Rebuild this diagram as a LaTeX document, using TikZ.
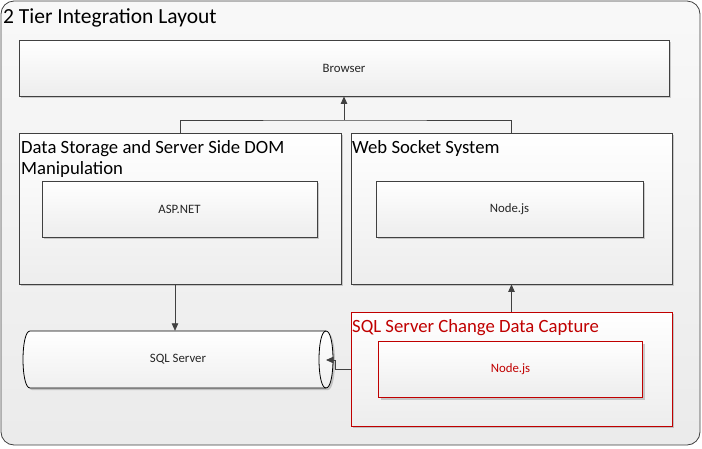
\documentclass[tikz,border=0pt]{standalone}
\usepackage{fontspec}
\setmainfont{Carlito}
\usetikzlibrary{arrows.meta,shadows,calc}
\definecolor{lineg}{HTML}{404040}
\definecolor{cdcred}{HTML}{C00000}
\definecolor{bgg}{HTML}{F2F2F2}
\tikzset{
  boxsh/.style={draw=lineg, line width=0.8pt, inner sep=0pt, shading=axis, top color=white, bottom color=black!7,
    drop shadow={opacity=0.18, shadow xshift=2pt, shadow yshift=-2pt, fill=black}},
  redbox/.style={boxsh, draw=cdcred},
  ttl/.style={anchor=base west, inner sep=0pt, font=\fontsize{18.7}{21}\selectfont, align=left, text=black},
  lbl/.style={font=\fontsize{12.8}{15}\selectfont, text=black!85},
  arr/.style={draw=lineg, line width=0.8pt, -{Triangle[width=6.5pt,length=7.5pt]}},
  conn/.style={draw=lineg, line width=0.8pt},
}
\begin{document}
\begin{tikzpicture}[x=1pt,y=-1pt]
\useasboundingbox (0,0) rectangle (702,448);
% outer frame
\node[draw=lineg, line width=0.8pt, rounded corners=13pt, shading=axis, top color=white!50!bgg, bottom color=bgg!97!black,
  minimum width=699pt, minimum height=444pt, inner sep=0pt] (frame) at (350.5,223) {};
\node[anchor=base west, inner sep=0pt, font=\fontsize{21.5}{24}\selectfont] (title) at (3,23) {2 Tier Integration Layout};
% browser
\node[boxsh, minimum width=650pt, minimum height=56pt, lbl] (browser) at (344,68) {Browser};
% data storage
\node[boxsh, minimum width=322pt, minimum height=151pt] (ds) at (180,208.5) {};
\node[ttl] (dst) at (21,153.5) {Data Storage and Server Side DOM};
\node[ttl] (dst2) at (21,174) {Manipulation};
\node[boxsh, minimum width=275pt, minimum height=56pt, lbl] (asp) at (179.5,209) {ASP.NET};
% web socket
\node[boxsh, minimum width=321pt, minimum height=151pt] (ws) at (511.5,208.5) {};
\node[ttl] (wst) at (352,153.5) {Web Socket System};
\node[boxsh, minimum width=267pt, minimum height=56pt, lbl] (nodeA) at (509.5,209) {Node.js};
% CDC
\node[redbox, minimum width=321pt, minimum height=114pt] (cdc) at (511.5,369) {};
\node[ttl, text=cdcred] (cdct) at (352,332) {SQL Server Change Data Capture};
\node[redbox, minimum width=264pt, minimum height=56pt, lbl, text=cdcred] (nodeB) at (510.5,369.5) {Node.js};
% SQL Server cylinder (drawn directly)
\fill[black, opacity=0.18, shift={(2,2)}]
  (30,331) -- (326,331) .. controls (335.33,331) and (335.33,388) .. (326,388) -- (30,388)
  .. controls (20.67,388) and (20.67,331) .. (30,331) -- cycle;
\draw[black, line width=0.8pt, shading=axis, top color=white, bottom color=black!6]
  (30,331) -- (326,331) .. controls (335.33,331) and (335.33,388) .. (326,388) -- (30,388)
  .. controls (20.67,388) and (20.67,331) .. (30,331) -- cycle;
\draw[black, line width=0.8pt] (326,331) .. controls (316.67,331) and (316.67,388) .. (326,388);
\node[minimum width=310pt, minimum height=57pt, inner sep=0pt, lbl] (sql) at (178,359.5) {SQL Server};
\coordinate (sqltip) at (326,360);
% connectors
\coordinate (j) at (344,120);
\draw[conn] (ds.north) |- (j) -| (ws.north);
\draw[arr] (j) -- (browser.south);
\draw[arr] ([xshift=-5pt]ds.south) -- ([xshift=-5pt]ds.south |- sql.north);
\draw[arr] (cdc.north) -- (ws.south);
\draw[arr] (cdc.west) -- ++(-15,0) |- (sqltip);
\end{tikzpicture}
\end{document}
